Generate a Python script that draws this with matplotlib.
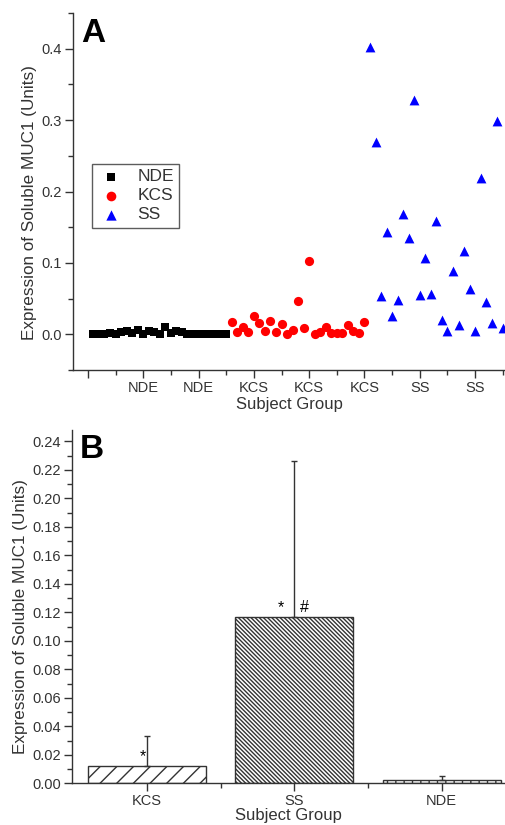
import matplotlib
matplotlib.use("Agg")
import matplotlib.pyplot as plt
from matplotlib.ticker import MultipleLocator, FixedLocator

plt.rcParams['font.family'] = ['Liberation Sans', 'DejaVu Sans']

# ---------------- data ----------------
# Panel A: individual subjects (x = subject index)
nde_values = [0.000, 0.001, 0.000, 0.002, 0.001, 0.003, 0.005, 0.002, 0.006, 0.001,
              0.005, 0.003, 0.000, 0.010, 0.002, 0.004, 0.003, 0.001, 0.000, 0.000,
              0.000, 0.000, 0.000, 0.000, 0.000]
kcs_values = [0.017, 0.003, 0.010, 0.003, 0.026, 0.016, 0.004, 0.019, 0.003, 0.014,
              0.000, 0.006, 0.046, 0.009, 0.103, 0.001, 0.003, 0.010, 0.002, 0.002,
              0.002, 0.013, 0.004, 0.002, 0.017]
ss_values = [0.403, 0.269, 0.053, 0.143, 0.025, 0.048, 0.169, 0.135, 0.328, 0.055,
             0.107, 0.057, 0.159, 0.020, 0.004, 0.089, 0.013, 0.116, 0.064, 0.005,
             0.219, 0.045, 0.016, 0.299, 0.009]
nde_x = list(range(1, 26))
kcs_x = list(range(26, 51))
ss_x = list(range(51, 76))
a_tick_pos = [0, 10, 20, 30, 40, 50, 60, 70]
a_tick_labels = ['', 'NDE', 'NDE', 'KCS', 'KCS', 'KCS', 'SS', 'SS']

# Panel B: group means with SD
b_groups = ['KCS', 'SS', 'NDE']
b_means = [0.0125, 0.1165, 0.0025]
b_err = [0.0210, 0.1100, 0.0025]
b_hatches = ['//', '\\\\\\\\\\\\\\\\', '||']
b_marks = [('*', 0, -0.03, 0.0185), ('*', 1, -0.09, 0.1232), ('#', 1, 0.07, 0.1232)]

text_c = '#333333'
ylabel = 'Expression of Soluble MUC1 (Units)'

fig = plt.figure(figsize=(5.05, 8.25), dpi=100)

# ---------------- Panel A ----------------
axA = fig.add_axes([0.1446, 0.5515, 0.8554, 0.4327])
axA.scatter(nde_x, nde_values, marker='s', s=32, color='black', label='NDE', zorder=3, linewidths=0)
axA.scatter(kcs_x, kcs_values, marker='o', s=44, color='#ff0000', label='KCS', zorder=3, linewidths=0)
axA.scatter(ss_x, ss_values, marker='^', s=50, color='#0000ff', label='SS', zorder=3, linewidths=0)
axA.set_xlim(-2.69, 75.4)
axA.set_ylim(-0.05, 0.45)
axA.yaxis.set_minor_locator(MultipleLocator(0.05))
axA.set_yticks([0.0, 0.1, 0.2, 0.3, 0.4])
axA.set_yticklabels(['0.0', '0.1', '0.2', '0.3', '0.4'])
axA.xaxis.set_major_locator(FixedLocator(a_tick_pos))
axA.set_xticklabels(a_tick_labels)
axA.xaxis.set_minor_locator(FixedLocator([5, 15, 25, 35, 45, 55, 65, 75]))
axA.set_xlabel('Subject Group', fontsize=12, color=text_c, labelpad=1)
axA.set_ylabel(ylabel, fontsize=12.3, color=text_c, labelpad=3.5)
axA.yaxis.label.set_y(0.47)
leg = axA.legend(loc='upper left', bbox_to_anchor=(0.044, 0.577), borderaxespad=0,
                 fontsize=12.5, frameon=True, fancybox=False, edgecolor='#333333',
                 handletextpad=0.7, borderpad=0.3, labelspacing=0.22, handlelength=1.6,
                 markerscale=1.05)
leg.get_frame().set_linewidth(1.0)
for t in leg.get_texts():
    t.set_color(text_c)
axA.text(0.018, 0.985, 'A', transform=axA.transAxes, fontsize=24, fontweight='bold',
         va='top', ha='left', color='black')

# ---------------- Panel B ----------------
axB = fig.add_axes([0.1426, 0.0505, 0.8574, 0.4283])
bx = list(range(len(b_groups)))
bars = axB.bar(bx, b_means, width=0.8, color='white', edgecolor='#333333', linewidth=1.0, zorder=2)
for bar, h in zip(bars, b_hatches):
    bar.set_hatch(h)
axB.errorbar(bx, b_means, yerr=[[0, 0, 0], b_err], fmt='none', ecolor='#333333',
             elinewidth=1.0, capsize=2.5, capthick=1.0, zorder=3)
for sym, i, dx, y in b_marks:
    axB.text(i + dx, y, sym, ha='center', va='center', fontsize=11.5, color='black')
axB.set_xlim(-0.508, 2.43)
axB.set_ylim(0, 0.248)
axB.yaxis.set_minor_locator(MultipleLocator(0.01))
axB.set_yticks([i * 0.02 for i in range(13)])
axB.set_yticklabels(['%.2f' % (i * 0.02) for i in range(13)])
axB.set_xticks(bx)
axB.set_xticklabels(b_groups)
axB.xaxis.set_minor_locator(FixedLocator([0.5, 1.5]))
axB.set_xlabel('Subject Group', fontsize=12, color=text_c, labelpad=0)
axB.set_ylabel(ylabel, fontsize=12.3, color=text_c, labelpad=3)
axB.yaxis.label.set_y(0.473)
axB.text(0.018, 0.99, 'B', transform=axB.transAxes, fontsize=24, fontweight='bold',
         va='top', ha='left', color='black')

for ax in (axA, axB):
    for s in ('top', 'right'):
        ax.spines[s].set_visible(False)
    for s in ('left', 'bottom'):
        ax.spines[s].set_color('#333333')
        ax.spines[s].set_linewidth(1.0)
    ax.tick_params(which='major', direction='out', length=6, width=1, colors='#333333',
                   labelsize=10.5, labelcolor=text_c, pad=2)
    ax.tick_params(which='minor', direction='out', length=3.5, width=1, colors='#333333')

fig.savefig('out.png', dpi=100)
